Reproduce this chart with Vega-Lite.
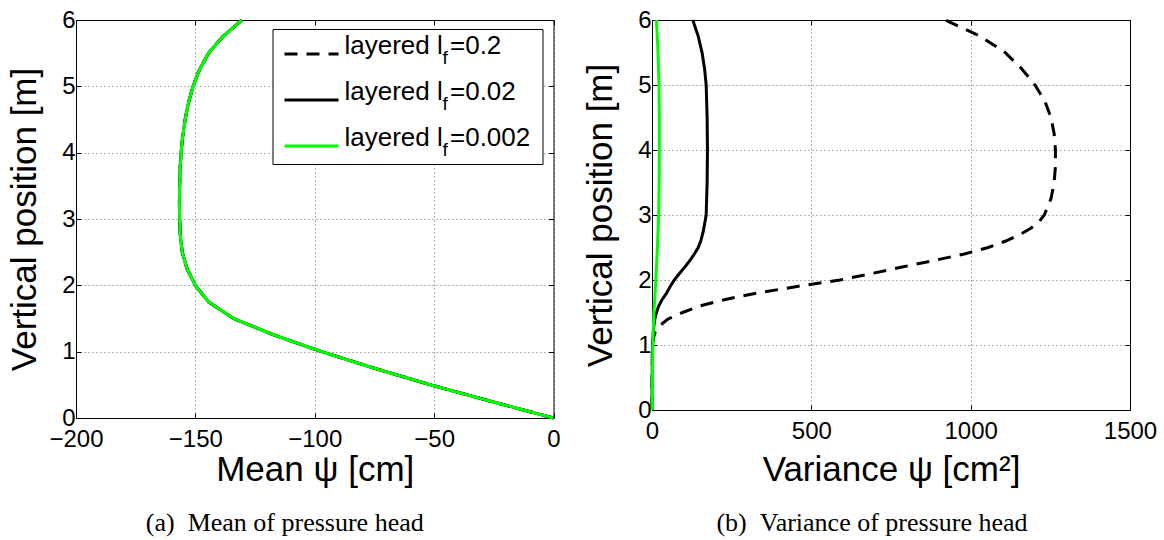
{
  "$schema": "https://vega.github.io/schema/vega-lite/v6.json",
  "background": "white",
  "padding": {"left": 7, "top": 7, "right": 5, "bottom": 5},
  "datasets": {
    "mean": [
      {"lf": "0.2", "lfValue": 0.2, "z": 0, "psi": 0}, {"lf": "0.2", "lfValue": 0.2, "z": 0.25, "psi": -26}, {"lf": "0.2", "lfValue": 0.2, "z": 0.5, "psi": -51.5}, {"lf": "0.2", "lfValue": 0.2, "z": 0.75, "psi": -75}, {"lf": "0.2", "lfValue": 0.2, "z": 1, "psi": -97}, {"lf": "0.2", "lfValue": 0.2, "z": 1.25, "psi": -117}, {"lf": "0.2", "lfValue": 0.2, "z": 1.5, "psi": -134}, {"lf": "0.2", "lfValue": 0.2, "z": 1.75, "psi": -144.5}, {"lf": "0.2", "lfValue": 0.2, "z": 2, "psi": -150}, {"lf": "0.2", "lfValue": 0.2, "z": 2.25, "psi": -153.5}, {"lf": "0.2", "lfValue": 0.2, "z": 2.5, "psi": -155.5}, {"lf": "0.2", "lfValue": 0.2, "z": 2.75, "psi": -156.3}, {"lf": "0.2", "lfValue": 0.2, "z": 3, "psi": -156.6}, {"lf": "0.2", "lfValue": 0.2, "z": 3.25, "psi": -156.7}, {"lf": "0.2", "lfValue": 0.2, "z": 3.5, "psi": -156.6}, {"lf": "0.2", "lfValue": 0.2, "z": 3.75, "psi": -156.4}, {"lf": "0.2", "lfValue": 0.2, "z": 4, "psi": -156}, {"lf": "0.2", "lfValue": 0.2, "z": 4.25, "psi": -155.3}, {"lf": "0.2", "lfValue": 0.2, "z": 4.5, "psi": -154.3}, {"lf": "0.2", "lfValue": 0.2, "z": 4.75, "psi": -152.9}, {"lf": "0.2", "lfValue": 0.2, "z": 5, "psi": -151}, {"lf": "0.2", "lfValue": 0.2, "z": 5.25, "psi": -148.3}, {"lf": "0.2", "lfValue": 0.2, "z": 5.5, "psi": -144.5}, {"lf": "0.2", "lfValue": 0.2, "z": 5.75, "psi": -138.5}, {"lf": "0.2", "lfValue": 0.2, "z": 6, "psi": -130.5},
      {"lf": "0.02", "lfValue": 0.02, "z": 0, "psi": 0}, {"lf": "0.02", "lfValue": 0.02, "z": 0.25, "psi": -26}, {"lf": "0.02", "lfValue": 0.02, "z": 0.5, "psi": -51.5}, {"lf": "0.02", "lfValue": 0.02, "z": 0.75, "psi": -75}, {"lf": "0.02", "lfValue": 0.02, "z": 1, "psi": -97}, {"lf": "0.02", "lfValue": 0.02, "z": 1.25, "psi": -117}, {"lf": "0.02", "lfValue": 0.02, "z": 1.5, "psi": -134}, {"lf": "0.02", "lfValue": 0.02, "z": 1.75, "psi": -144.5}, {"lf": "0.02", "lfValue": 0.02, "z": 2, "psi": -150}, {"lf": "0.02", "lfValue": 0.02, "z": 2.25, "psi": -153.5}, {"lf": "0.02", "lfValue": 0.02, "z": 2.5, "psi": -155.5}, {"lf": "0.02", "lfValue": 0.02, "z": 2.75, "psi": -156.3}, {"lf": "0.02", "lfValue": 0.02, "z": 3, "psi": -156.6}, {"lf": "0.02", "lfValue": 0.02, "z": 3.25, "psi": -156.7}, {"lf": "0.02", "lfValue": 0.02, "z": 3.5, "psi": -156.6}, {"lf": "0.02", "lfValue": 0.02, "z": 3.75, "psi": -156.4}, {"lf": "0.02", "lfValue": 0.02, "z": 4, "psi": -156}, {"lf": "0.02", "lfValue": 0.02, "z": 4.25, "psi": -155.3}, {"lf": "0.02", "lfValue": 0.02, "z": 4.5, "psi": -154.3}, {"lf": "0.02", "lfValue": 0.02, "z": 4.75, "psi": -152.9}, {"lf": "0.02", "lfValue": 0.02, "z": 5, "psi": -151}, {"lf": "0.02", "lfValue": 0.02, "z": 5.25, "psi": -148.3}, {"lf": "0.02", "lfValue": 0.02, "z": 5.5, "psi": -144.5}, {"lf": "0.02", "lfValue": 0.02, "z": 5.75, "psi": -138.5}, {"lf": "0.02", "lfValue": 0.02, "z": 6, "psi": -130.5},
      {"lf": "0.002", "lfValue": 0.002, "z": 0, "psi": 0}, {"lf": "0.002", "lfValue": 0.002, "z": 0.25, "psi": -26}, {"lf": "0.002", "lfValue": 0.002, "z": 0.5, "psi": -51.5}, {"lf": "0.002", "lfValue": 0.002, "z": 0.75, "psi": -75}, {"lf": "0.002", "lfValue": 0.002, "z": 1, "psi": -97}, {"lf": "0.002", "lfValue": 0.002, "z": 1.25, "psi": -117}, {"lf": "0.002", "lfValue": 0.002, "z": 1.5, "psi": -134}, {"lf": "0.002", "lfValue": 0.002, "z": 1.75, "psi": -144.5}, {"lf": "0.002", "lfValue": 0.002, "z": 2, "psi": -150}, {"lf": "0.002", "lfValue": 0.002, "z": 2.25, "psi": -153.5}, {"lf": "0.002", "lfValue": 0.002, "z": 2.5, "psi": -155.5}, {"lf": "0.002", "lfValue": 0.002, "z": 2.75, "psi": -156.3}, {"lf": "0.002", "lfValue": 0.002, "z": 3, "psi": -156.6}, {"lf": "0.002", "lfValue": 0.002, "z": 3.25, "psi": -156.7}, {"lf": "0.002", "lfValue": 0.002, "z": 3.5, "psi": -156.6}, {"lf": "0.002", "lfValue": 0.002, "z": 3.75, "psi": -156.4}, {"lf": "0.002", "lfValue": 0.002, "z": 4, "psi": -156}, {"lf": "0.002", "lfValue": 0.002, "z": 4.25, "psi": -155.3}, {"lf": "0.002", "lfValue": 0.002, "z": 4.5, "psi": -154.3}, {"lf": "0.002", "lfValue": 0.002, "z": 4.75, "psi": -152.9}, {"lf": "0.002", "lfValue": 0.002, "z": 5, "psi": -151}, {"lf": "0.002", "lfValue": 0.002, "z": 5.25, "psi": -148.3}, {"lf": "0.002", "lfValue": 0.002, "z": 5.5, "psi": -144.5}, {"lf": "0.002", "lfValue": 0.002, "z": 5.75, "psi": -138.5}, {"lf": "0.002", "lfValue": 0.002, "z": 6, "psi": -130.5}
    ],
    "variance": [
      {"lf": "0.2", "z": 0, "var": 0}, {"lf": "0.2", "z": 0.5, "var": 0.5}, {"lf": "0.2", "z": 1, "var": 1}, {"lf": "0.2", "z": 1.1, "var": 4}, {"lf": "0.2", "z": 1.2, "var": 10}, {"lf": "0.2", "z": 1.3, "var": 25}, {"lf": "0.2", "z": 1.4, "var": 50}, {"lf": "0.2", "z": 1.5, "var": 96}, {"lf": "0.2", "z": 1.6, "var": 150}, {"lf": "0.2", "z": 1.7, "var": 230}, {"lf": "0.2", "z": 1.8, "var": 330}, {"lf": "0.2", "z": 1.9, "var": 455}, {"lf": "0.2", "z": 2, "var": 590}, {"lf": "0.2", "z": 2.1, "var": 690}, {"lf": "0.2", "z": 2.2, "var": 785}, {"lf": "0.2", "z": 2.3, "var": 885}, {"lf": "0.2", "z": 2.4, "var": 980}, {"lf": "0.2", "z": 2.5, "var": 1055}, {"lf": "0.2", "z": 2.6, "var": 1110}, {"lf": "0.2", "z": 2.7, "var": 1155}, {"lf": "0.2", "z": 2.8, "var": 1190}, {"lf": "0.2", "z": 2.9, "var": 1215}, {"lf": "0.2", "z": 3, "var": 1231}, {"lf": "0.2", "z": 3.25, "var": 1252}, {"lf": "0.2", "z": 3.5, "var": 1262}, {"lf": "0.2", "z": 3.75, "var": 1266}, {"lf": "0.2", "z": 4, "var": 1266}, {"lf": "0.2", "z": 4.25, "var": 1262}, {"lf": "0.2", "z": 4.5, "var": 1252}, {"lf": "0.2", "z": 4.75, "var": 1233}, {"lf": "0.2", "z": 5, "var": 1202}, {"lf": "0.2", "z": 5.25, "var": 1160}, {"lf": "0.2", "z": 5.5, "var": 1108}, {"lf": "0.2", "z": 5.75, "var": 1030}, {"lf": "0.2", "z": 6, "var": 921},
      {"lf": "0.02", "z": 0, "var": 0}, {"lf": "0.02", "z": 0.5, "var": 0.5}, {"lf": "0.02", "z": 1, "var": 2}, {"lf": "0.02", "z": 1.2, "var": 4}, {"lf": "0.02", "z": 1.3, "var": 6}, {"lf": "0.02", "z": 1.4, "var": 9}, {"lf": "0.02", "z": 1.5, "var": 14}, {"lf": "0.02", "z": 1.6, "var": 21}, {"lf": "0.02", "z": 1.7, "var": 32}, {"lf": "0.02", "z": 1.8, "var": 46}, {"lf": "0.02", "z": 1.9, "var": 57}, {"lf": "0.02", "z": 2, "var": 70}, {"lf": "0.02", "z": 2.1, "var": 86}, {"lf": "0.02", "z": 2.2, "var": 103}, {"lf": "0.02", "z": 2.3, "var": 119}, {"lf": "0.02", "z": 2.4, "var": 133}, {"lf": "0.02", "z": 2.5, "var": 145}, {"lf": "0.02", "z": 2.6, "var": 153}, {"lf": "0.02", "z": 2.75, "var": 161}, {"lf": "0.02", "z": 3, "var": 170}, {"lf": "0.02", "z": 3.5, "var": 173}, {"lf": "0.02", "z": 4, "var": 174}, {"lf": "0.02", "z": 4.5, "var": 173}, {"lf": "0.02", "z": 5, "var": 170}, {"lf": "0.02", "z": 5.25, "var": 165}, {"lf": "0.02", "z": 5.5, "var": 157}, {"lf": "0.02", "z": 5.75, "var": 145}, {"lf": "0.02", "z": 6, "var": 128},
      {"lf": "0.002", "z": 0, "var": 1}, {"lf": "0.002", "z": 0.5, "var": 1.5}, {"lf": "0.002", "z": 1, "var": 2.5}, {"lf": "0.002", "z": 1.5, "var": 6}, {"lf": "0.002", "z": 2, "var": 12}, {"lf": "0.002", "z": 2.5, "var": 17}, {"lf": "0.002", "z": 3, "var": 21}, {"lf": "0.002", "z": 3.5, "var": 22.5}, {"lf": "0.002", "z": 4, "var": 23}, {"lf": "0.002", "z": 4.5, "var": 23}, {"lf": "0.002", "z": 5, "var": 22}, {"lf": "0.002", "z": 5.5, "var": 19}, {"lf": "0.002", "z": 6, "var": 14}
    ]
  },
  "spacing": 98,
  "bounds": "flush",
  "resolve": {
    "scale": {"color": "independent", "strokeDash": "independent", "opacity": "independent"},
    "legend": {"color": "independent", "strokeDash": "independent", "opacity": "independent"}
  },
  "hconcat": [
    {
      "width": 477.5,
      "height": 398,
      "data": {"name": "mean"},
      "title": {"text": "(a)\u2002Mean of pressure head", "orient": "bottom", "offset": 23, "dx": -30},
      "layer": [
        {
          "mark": {"type": "line", "strokeWidth": 3},
          "encoding": {
            "x": {"field": "psi", "type": "quantitative", "scale": {"domain": [-200, 0], "nice": false, "zero": false},
                  "axis": {"title": "Mean ψ [cm]", "values": [-200, -150, -100, -50, 0], "titlePadding": 1}},
            "y": {"field": "z", "type": "quantitative", "scale": {"domain": [0, 6], "nice": false},
                  "axis": {"title": "Vertical position [m]", "values": [0, 1, 2, 3, 4, 5, 6]}},
            "order": {"field": "z", "type": "quantitative"},
            "color": {"field": "lf", "type": "nominal",
                      "scale": {"domain": ["0.2", "0.02", "0.002"], "range": ["#000000", "#000000", "#00ff00"]},
                      "legend": {"orient": "none", "legendX": 196.5, "legendY": 9, "title": null,
                                 "labelExpr": "'layered l =' + datum.label", "labelLimit": 0,
                                 "labelFont": "Liberation Sans", "labelFontSize": 26, "labelBaseline": "alphabetic",
                                 "symbolType": "M-1.3,0H4.1", "symbolSize": 400, "symbolStrokeWidth": 3,
                                 "strokeColor": "black", "fillColor": "white", "padding": 12,
                                 "rowPadding": 19, "labelOffset": 34}},
            "strokeDash": {"field": "lf", "type": "nominal",
                           "scale": {"domain": ["0.2", "0.02", "0.002"], "range": [[13, 9], [1, 0], [1, 0]]}},
            "opacity": {"field": "lfValue", "type": "ordinal",
                        "scale": {"domain": [0.2, 0.02, 0.002], "range": [1, 1]},
                        "legend": {"orient": "none", "legendX": 347.5, "legendY": 28.5, "title": null,
                                   "labelExpr": "'f'", "labelFont": "Liberation Sans", "labelFontSize": 19,
                                   "labelBaseline": "middle", "symbolSize": 0, "symbolType": "circle",
                                   "symbolStrokeColor": "transparent", "symbolFillColor": "transparent",
                                   "padding": 0, "labelOffset": 0, "rowPadding": 26}}
          }
        },
        {
          "mark": {"type": "point", "opacity": 0},
          "encoding": {
            "x": {"field": "psi", "type": "quantitative",
                  "axis": {"orient": "top", "title": null, "labels": false, "grid": false, "values": [-200, -150, -100, -50, 0]}},
            "y": {"field": "z", "type": "quantitative",
                  "axis": {"orient": "right", "title": null, "labels": false, "grid": false, "values": [0, 1, 2, 3, 4, 5, 6]}}
          }
        }
      ],
      "resolve": {"axis": {"x": "independent", "y": "independent"}}
    },
    {
      "width": 478,
      "height": 390,
      "data": {"name": "variance"},
      "title": {"text": "(b)\u2002Variance of pressure head", "orient": "bottom", "offset": 23, "dx": -19},
      "layer": [
        {
          "mark": {"type": "line", "strokeWidth": 3},
          "encoding": {
            "x": {"field": "var", "type": "quantitative", "scale": {"domain": [0, 1500], "nice": false},
                  "axis": {"title": "Variance ψ [cm²]", "values": [0, 500, 1000, 1500], "format": "d", "titlePadding": 9}},
            "y": {"field": "z", "type": "quantitative", "scale": {"domain": [0, 6], "nice": false},
                  "axis": {"title": "Vertical position [m]", "values": [0, 1, 2, 3, 4, 5, 6]}},
            "order": {"field": "z", "type": "quantitative"},
            "color": {"field": "lf", "type": "nominal",
                      "scale": {"domain": ["0.2", "0.02", "0.002"], "range": ["#000000", "#000000", "#00ff00"]},
                      "legend": null},
            "strokeDash": {"field": "lf", "type": "nominal",
                           "scale": {"domain": ["0.2", "0.02", "0.002"], "range": [[13, 9], [1, 0], [1, 0]]},
                           "legend": null}
          }
        },
        {
          "mark": {"type": "point", "opacity": 0},
          "encoding": {
            "x": {"field": "var", "type": "quantitative",
                  "axis": {"orient": "top", "title": null, "labels": false, "grid": false, "values": [0, 500, 1000, 1500]}},
            "y": {"field": "z", "type": "quantitative",
                  "axis": {"orient": "right", "title": null, "labels": false, "grid": false, "values": [0, 1, 2, 3, 4, 5, 6]}}
          }
        }
      ],
      "resolve": {"axis": {"x": "independent", "y": "independent"}}
    }
  ],
  "config": {
    "font": "Liberation Sans",
    "view": {"stroke": "#000000", "strokeWidth": 1},
    "axis": {
      "labelFont": "Liberation Sans", "labelFontSize": 24, "labelColor": "#000000",
      "titleFont": "Liberation Sans", "titleFontSize": 35, "titleFontWeight": "normal", "titleColor": "#000000",
      "domain": false, "tickColor": "#000000", "tickSize": -5, "tickWidth": 1,
      "labelFlush": false, "labelOverlap": false,
      "gridColor": "#000000", "gridOpacity": 0.6, "gridDash": [1, 3], "gridWidth": 1
    },
    "axisX": {"labelPadding": 14},
    "axisY": {"labelPadding": 6, "titlePadding": 19},
    "title": {"font": "Liberation Serif", "fontSize": 26, "fontWeight": "normal", "color": "#000000"}
  }
}
